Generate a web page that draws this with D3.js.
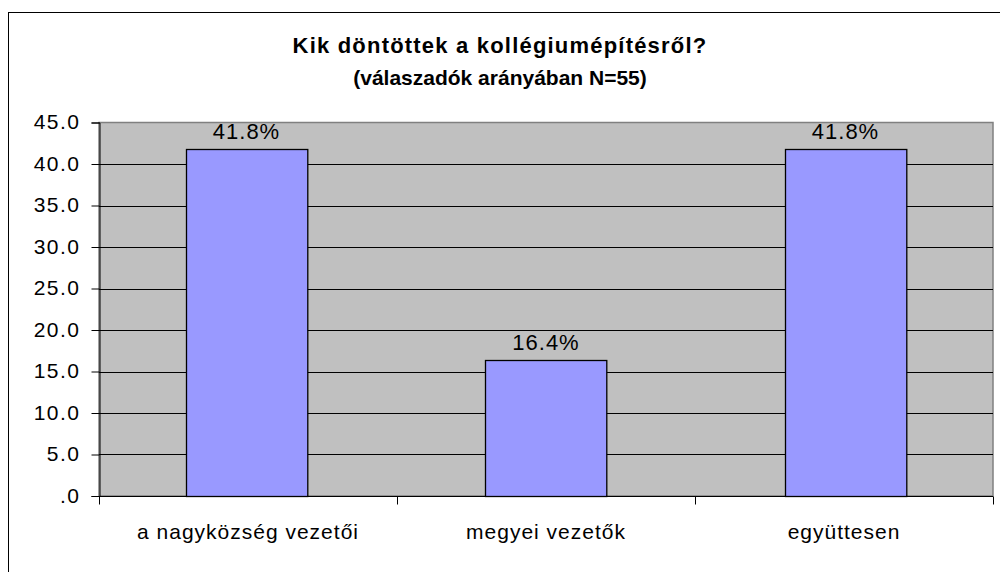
<!DOCTYPE html>
<html>
<head>
<meta charset="utf-8">
<script src="https://cdn.jsdelivr.net/npm/d3@7"></script>
<style>
	body { margin: 0; background: #fff; }
	text { font-family: "Liberation Sans", Arial, sans-serif; fill: #000; }
	.title { font-weight: bold; font-size: 21px; }
	.tick_lab { font-size: 21px; letter-spacing: 1.5px; }
	.cat_lab { font-size: 21px; letter-spacing: 1px; }
	.val_lab { font-size: 22px; letter-spacing: 1px; }
</style>
</head>
<body>
<div id="svg_container"></div>
<script>

/* -----------------------
data
------------------------- */

var categories = ['a nagyközség vezetői', 'megyei vezetők', 'együttesen'];
var values = [41.8, 16.4, 41.8];
var value_labels = ['41.8%', '16.4%', '41.8%'];
var y_ticks = [0, 5, 10, 15, 20, 25, 30, 35, 40, 45];
var tick_labels = ['.0', '5.0', '10.0', '15.0', '20.0', '25.0', '30.0', '35.0', '40.0', '45.0'];
var title_lines = ['Kik döntöttek a kollégiumépítésről?', '(válaszadók arányában N=55)'];

/* -----------------------
main variables
------------------------- */

var width = 1000;
var height = 572;

var plot_area = {left: 99, right: 993, top: 122.5, bottom: 496};
var tick_len = 8;

/* -----------------------
set plot
------------------------- */

var svg = d3.select("#svg_container")
	.append("svg")
	.attr("width", width)
	.attr("height", height)

// outer chart border (only top/left visible)
svg.append('rect')
	.attr('x', 8.5)
	.attr('y', 12.5)
	.attr('width', 1100)
	.attr('height', 700)
	.attr('fill', 'none')
	.attr('stroke', '#000')

var x = d3.scaleBand()
	.domain(categories)
	.range([plot_area.left, plot_area.right])
	.paddingInner(0.595)
	.paddingOuter(0.29)

var x_step = d3.scaleBand()
	.domain(categories)
	.range([plot_area.left, plot_area.right])

var y = d3.scaleLinear()
	.domain([0, 45])
	.range([plot_area.bottom, plot_area.top])

/* -----------------------
title
------------------------- */

svg.append('text')
	.attr('class', 'title')
	.attr('x', 500)
	.attr('y', 53)
	.attr('text-anchor', 'middle')
	.style('font-size', '22px')
	.style('letter-spacing', '1.2px')
	.text(title_lines[0])

svg.append('text')
	.attr('class', 'title')
	.attr('x', 500)
	.attr('y', 85)
	.attr('text-anchor', 'middle')
	.text(title_lines[1])

/* -----------------------
plot area + grid
------------------------- */

svg.append('rect')
	.attr('x', plot_area.left)
	.attr('y', plot_area.top)
	.attr('width', plot_area.right - plot_area.left)
	.attr('height', plot_area.bottom - plot_area.top)
	.attr('fill', '#C0C0C0')
	.attr('stroke', '#808080')
	.attr('stroke-width', 1.5)

svg.append('g')
	.attr('class', 'grid')
	.selectAll('line')
	.data(y_ticks.filter(function(d){ return d > 0 && d < 45 }))
	.enter()
	.append('line')
	.attr('x1', plot_area.left)
	.attr('x2', plot_area.right)
	.attr('y1', function(d){ return Math.round(y(d)) + 0.5 })
	.attr('y2', function(d){ return Math.round(y(d)) + 0.5 })
	.attr('stroke', '#000')

/* -----------------------
bars
------------------------- */

var bars = svg.selectAll('.bar')
	.data(values)
	.enter()
	.append('g')
	.attr('class', 'bar')

bars.append('rect')
	.attr('x', function(d,i){ return Math.round(x(categories[i])) + 0.5 })
	.attr('y', function(d){ return Math.round(y(d)) + 0.5 })
	.attr('width', x.bandwidth())
	.attr('height', function(d){ return Math.round(y(0)) - Math.round(y(d)) })
	.attr('fill', '#9999FF')
	.attr('stroke', '#000')
	.attr('stroke-width', 1.3)

bars.append('text')
	.attr('class', 'val_lab')
	.attr('x', function(d,i){ return x(categories[i]) + x.bandwidth()/2 })
	.attr('y', function(d){ return y(d) - 10 })
	.attr('text-anchor', 'middle')
	.text(function(d,i){ return value_labels[i] })

/* -----------------------
axes
------------------------- */

var y_axis = svg.append('g')
	.attr('transform', 'translate(' + (plot_area.left + 0.5) + ',0)')
	.call(d3.axisLeft(y).tickValues(y_ticks).tickSize(tick_len).tickPadding(11)
		.tickFormat(function(d,i){ return tick_labels[i] }))

y_axis.select('.domain').attr('stroke', '#000')
y_axis.selectAll('.tick line').attr('stroke', '#000')
y_axis.selectAll('.tick text')
	.attr('class', 'tick_lab')
	.attr('dy', '0.3em')
y_axis.attr('font-size', null).attr('font-family', null)

var x_axis = svg.append('g')
	.attr('transform', 'translate(0,' + (plot_area.bottom + 0.5) + ')')

x_axis.append('line')
	.attr('x1', plot_area.left)
	.attr('x2', plot_area.right)
	.attr('stroke', '#000')

// boundary ticks
var bounds = categories.map(function(c){ return x_step(c) }).concat([plot_area.right])
x_axis.selectAll('.xtick')
	.data(bounds)
	.enter()
	.append('line')
	.attr('class', 'xtick')
	.attr('x1', function(d){ return Math.round(d) + 0.5 })
	.attr('x2', function(d){ return Math.round(d) + 0.5 })
	.attr('y1', 0)
	.attr('y2', tick_len)
	.attr('stroke', '#000')

x_axis.selectAll('.cat_lab')
	.data(categories)
	.enter()
	.append('text')
	.attr('class', 'cat_lab')
	.attr('x', function(d){ return x_step(d) + x_step.bandwidth()/2 })
	.attr('y', 42)
	.attr('text-anchor', 'middle')
	.text(function(d){ return d })

</script>
</body>
</html>
